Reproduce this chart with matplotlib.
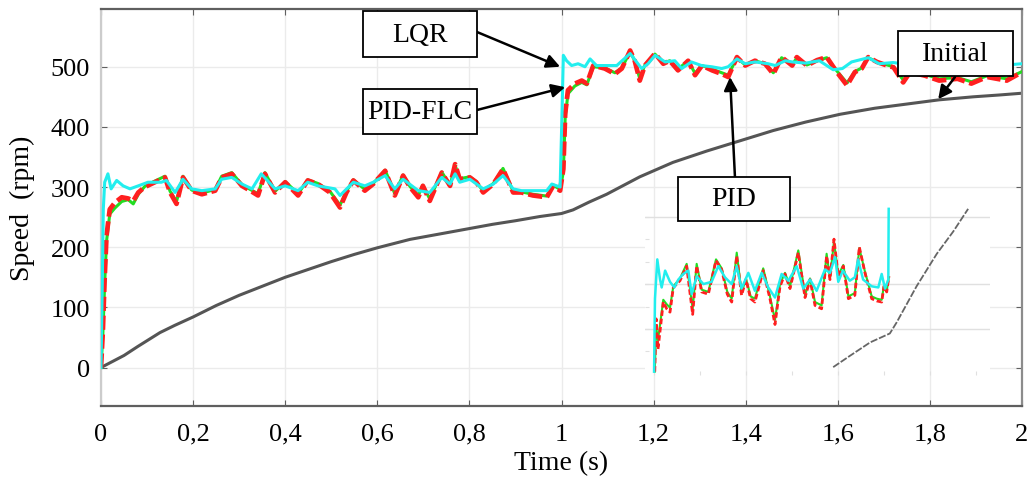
import matplotlib
matplotlib.use('Agg')
import matplotlib.pyplot as plt
from matplotlib.patches import Rectangle

plt.rcParams['font.family'] = 'Liberation Serif'

# Speed responses (rpm) over time (s)
t_pid = [0, 0.004, 0.008, 0.012, 0.019, 0.030, 0.045, 0.059, 0.070, 0.081,
         0.095, 0.117, 0.139, 0.150, 0.164, 0.178, 0.197, 0.219, 0.248, 0.262,
         0.284, 0.306, 0.324, 0.341, 0.356, 0.378, 0.400, 0.428, 0.449, 0.471,
         0.497, 0.519, 0.533, 0.548, 0.573, 0.591, 0.617, 0.638, 0.656, 0.671,
         0.689, 0.699, 0.714, 0.740, 0.758, 0.769, 0.779, 0.801, 0.815, 0.830,
         0.852, 0.873, 0.895, 0.913, 0.938, 0.968, 0.982, 0.997, 1.004, 1.008,
         1.014, 1.029, 1.044, 1.055, 1.069, 1.094, 1.116, 1.131, 1.149, 1.159,
         1.170, 1.181, 1.203, 1.221, 1.235, 1.253, 1.275, 1.290, 1.305, 1.327,
         1.348, 1.362, 1.381, 1.399, 1.420, 1.442, 1.460, 1.478, 1.501, 1.511,
         1.533, 1.555, 1.576, 1.598, 1.620, 1.637, 1.652, 1.666, 1.685, 1.707,
         1.721, 1.742, 1.757, 1.790, 1.820, 1.860, 1.890, 1.924, 1.967, 2.0]
pid = [0, 60, 150, 219, 263, 274, 283, 281, 277, 291,
       300, 308, 316, 291, 272, 316, 294, 288, 294, 316,
       322, 302, 294, 286, 322, 291, 308, 286, 311, 305,
       291, 266, 291, 311, 294, 305, 327, 286, 319, 300,
       283, 302, 277, 324, 302, 338, 313, 316, 308, 291,
       305, 330, 291, 291, 286, 283, 302, 294, 330, 422,
       461, 472, 477, 472, 502, 497, 488, 497, 527, 510,
       477, 502, 522, 505, 510, 494, 510, 486, 502, 494,
       488, 483, 516, 502, 510, 505, 488, 516, 502, 516,
       502, 511, 516, 491, 469, 491, 497, 516, 508, 502,
       499, 474, 491, 485, 477, 480, 472, 483, 477, 491]
pid_flc = [0, 55, 140, 210, 255, 265, 276, 279, 272, 288,
           301, 310, 318, 293, 276, 318, 295, 290, 296, 318,
           324, 304, 296, 289, 324, 293, 309, 289, 312, 306,
           293, 270, 293, 312, 296, 306, 328, 289, 320, 301,
           286, 303, 280, 325, 303, 336, 314, 317, 309, 293,
           306, 331, 293, 292, 288, 285, 303, 296, 325, 415,
           455, 468, 474, 470, 500, 498, 490, 498, 525, 510,
           480, 503, 521, 506, 510, 496, 510, 489, 502, 496,
           490, 486, 515, 503, 510, 505, 490, 515, 503, 515,
           503, 510, 515, 493, 473, 492, 498, 515, 508, 503,
           500, 478, 492, 487, 480, 482, 475, 485, 480, 492]

t_lqr = [0, 0.003, 0.005, 0.008, 0.015, 0.022, 0.034, 0.048, 0.063, 0.081,
         0.102, 0.131, 0.142, 0.161, 0.178, 0.197, 0.219, 0.248, 0.262, 0.284,
         0.306, 0.328, 0.348, 0.378, 0.400, 0.428, 0.449, 0.471, 0.508, 0.519,
         0.548, 0.573, 0.591, 0.617, 0.638, 0.656, 0.689, 0.714, 0.740, 0.758,
         0.769, 0.779, 0.801, 0.830, 0.852, 0.873, 0.895, 0.913, 0.938, 0.968,
         0.979, 0.997, 1.001, 1.004, 1.011, 1.022, 1.036, 1.051, 1.062, 1.076,
         1.098, 1.120, 1.149, 1.163, 1.174, 1.188, 1.203, 1.225, 1.246, 1.261,
         1.282, 1.304, 1.326, 1.348, 1.362, 1.381, 1.399, 1.420, 1.449, 1.464,
         1.486, 1.501, 1.530, 1.560, 1.590, 1.610, 1.630, 1.666, 1.690, 1.720,
         1.760, 1.800, 1.850, 1.900, 1.950, 2.0]
lqr = [0, 150, 263, 308, 322, 297, 311, 302, 297, 302,
       308, 308, 311, 291, 313, 297, 294, 297, 313, 316,
       305, 297, 322, 297, 302, 294, 308, 302, 297, 286,
       308, 302, 308, 319, 297, 313, 294, 291, 316, 305,
       322, 308, 313, 297, 305, 319, 297, 294, 294, 294,
       305, 300, 420, 519, 510, 502, 505, 500, 513, 502,
       502, 502, 522, 508, 497, 505, 519, 508, 510, 497,
       508, 502, 500, 497, 500, 513, 505, 508, 505, 502,
       510, 508, 506, 510, 495, 497, 508, 515, 505, 507,
       503, 506, 504, 508, 502, 505]

t_init = [0, 0.025, 0.05, 0.08, 0.128, 0.16, 0.2, 0.25, 0.3, 0.35,
          0.4, 0.45, 0.5, 0.55, 0.6, 0.671, 0.75, 0.8, 0.85, 0.9,
          0.953, 1.0, 1.025, 1.06, 1.098, 1.170, 1.242, 1.316, 1.388, 1.460,
          1.530, 1.605, 1.680, 1.750, 1.820, 1.894, 1.950, 2.0]
initial = [0, 10, 20, 35, 58, 70, 84, 103, 120, 135,
           150, 163, 176, 188, 199, 213, 224, 231, 238, 244,
           251, 256, 262, 275, 288, 317, 341, 360, 377, 394,
           408, 421, 431, 438, 445, 450, 453, 456]

# zoomed detail drawn in the lower right
t_zoom_lqr = [1.201, 1.203, 1.208, 1.214, 1.2175, 1.225, 1.2356, 1.245, 1.2537, 1.2645,
              1.2754, 1.2826, 1.2936, 1.308, 1.326, 1.3405, 1.355, 1.3696, 1.3805, 1.391,
              1.4057, 1.42, 1.4347, 1.449, 1.4636, 1.478, 1.4926, 1.5107, 1.525, 1.5397,
              1.554, 1.572, 1.583, 1.594, 1.601, 1.611, 1.626, 1.637, 1.644, 1.655,
              1.6736, 1.688, 1.6953, 1.7025, 1.7097, 1.7105]
zoom_lqr = [222, 287, 322, 304, 297, 312, 302, 297, 304, 309,
            312, 291, 307, 300, 302, 316, 306, 300, 316, 296,
            310, 294, 310, 297, 288, 309, 303, 316, 296, 304,
            294, 313, 310, 324, 302, 312, 303, 306, 322, 304,
            298, 297, 309, 296, 304, 367]
t_zoom_pid = [1.2025, 1.2055, 1.2095, 1.2153, 1.221, 1.2284, 1.2356, 1.2428, 1.2573, 1.2718,
              1.2848, 1.2935, 1.3044, 1.3188, 1.3355, 1.3478, 1.36, 1.3696, 1.3805, 1.391,
              1.4006, 1.4107, 1.42, 1.438, 1.4527, 1.4636, 1.4745, 1.4853, 1.4962, 1.5142,
              1.5288, 1.5397, 1.5505, 1.5648, 1.5757, 1.583, 1.5917, 1.601, 1.612, 1.623,
              1.637, 1.6467, 1.659, 1.6736, 1.6845, 1.6953, 1.7003, 1.7062, 1.711]
zoom_pid = [222, 269, 242, 263, 284, 278, 275, 297, 303, 316,
            273, 316, 293, 291, 321, 313, 291, 284, 325, 290,
            304, 287, 284, 312, 287, 264, 298, 309, 296, 328,
            288, 304, 281, 278, 325, 304, 340, 307, 316, 287,
            290, 333, 310, 287, 285, 284, 298, 293, 307]
zoom_flc = [222, 262, 250, 268, 286, 282, 279, 298, 305, 318,
            278, 318, 295, 293, 322, 314, 293, 287, 328, 292,
            305, 289, 287, 314, 289, 268, 300, 310, 298, 330,
            290, 305, 284, 281, 327, 305, 338, 308, 317, 289,
            292, 332, 311, 289, 287, 286, 299, 294, 306]
t_zoom_init = [1.590, 1.626, 1.670, 1.713, 1.728, 1.771, 1.815, 1.851, 1.883]
zoom_init = [226, 236, 248, 256, 266, 298, 327, 347, 367]

x_ticks = [0, 0.2, 0.4, 0.6, 0.8, 1.0, 1.2, 1.4, 1.6, 1.8, 2.0]
x_tick_labels = ['0', '0,2', '0,4', '0,6', '0,8', '1', '1,2', '1,4', '1,6', '1,8', '2']
y_ticks = [0, 100, 200, 300, 400, 500]

RED = '#ff1f1f'
GREEN = '#22dd22'
CYAN = '#22eeee'
GRAY = '#555555'

W, H = 1031, 481
fig = plt.figure(figsize=(W / 100, H / 100), dpi=100)
ax = fig.add_axes([101 / W, 1 - 407 / H, 921 / W, 397 / H])

ax.plot(t_init, initial, color=GRAY, lw=2.2, zorder=2)
ax.plot(t_pid, pid_flc, color=GREEN, lw=2.2, zorder=3)
ax.plot(t_pid, pid, color=RED, lw=3.4, ls=(0, (3, 1)), zorder=4)
ax.plot(t_lqr, lqr, color=CYAN, lw=2.2, zorder=5)

ax.set_xlim(0, 2)
ax.set_ylim(-64, 596)
ax.set_xticks(x_ticks)
ax.set_xticklabels(x_tick_labels)
ax.set_yticks(y_ticks)
ax.tick_params(direction='in', length=4, color='#606060', labelsize=19,
               top=True, right=True)
ax.tick_params(axis='x', pad=12)
ax.tick_params(axis='y', pad=8)
ax.grid(True, color='#ebebeb', lw=1.0)
ax.set_axisbelow(True)
for side, col in [('top', '#5f5f5f'), ('bottom', '#5f5f5f'),
                  ('left', '#cccccc'), ('right', '#8c8c8c')]:
    ax.spines[side].set_color(col)
    ax.spines[side].set_linewidth(1.6)
ax.set_xlabel('Time (s)', fontsize=20, labelpad=4)
ax.set_ylabel('Speed  (rpm)', fontsize=20, labelpad=11)

# inset with the magnified traces
ins = fig.add_axes([645 / W, 1 - 376 / H, 345 / W, 174 / H])
ins.set_facecolor('white')
ins.set_xlim(1.1813, 1.9305)
ins.set_ylim(219, 374)
for sp in ins.spines.values():
    sp.set_visible(False)
ins.set_xticks([1.2, 1.3, 1.4, 1.5, 1.6, 1.7, 1.8, 1.9])
ins.set_yticks([240, 260, 280, 300, 320, 340, 360])
ins.tick_params(direction='in', length=3, color='#e0e0e0',
                labelbottom=False, labelleft=False)
for x in [1.2, 1.4, 1.6, 1.8]:
    ins.axvline(x, color='#ebebeb', lw=1.0, zorder=0)
for y in [260, 300, 360]:
    ins.axhline(y, color='#e0e0e0', lw=1.0, zorder=0)
ins.plot(t_zoom_init, zoom_init, color='#666666', lw=1.3, ls=(0, (4, 1)), zorder=2)
ins.plot(t_zoom_pid, zoom_flc, color=GREEN, lw=1.5, zorder=3)
ins.plot(t_zoom_pid, zoom_pid, color=RED, lw=2.0, ls=(0, (2, 1)), zorder=4)
ins.plot(t_zoom_lqr, zoom_lqr, color=CYAN, lw=1.8, zorder=5)

# labelled boxes with arrows pointing at each trace
boxes = [
    ('LQR', (363, 12, 477, 58), (477, 33), (0.997, 500)),
    ('PID-FLC', (363, 90, 477, 135), (477, 111), (1.008, 466)),
    ('PID', (678, 178, 790, 222), (735, 179), (1.366, 483)),
    ('Initial', (898, 32, 1013, 77), (955, 78), (1.818, 446)),
]
for label, (x0, y0, x1, y1), base, tip in boxes:
    fig.patches.append(Rectangle((x0 / W, 1 - y1 / H), (x1 - x0) / W, (y1 - y0) / H,
                                 transform=fig.transFigure, facecolor='white',
                                 edgecolor='black', lw=1.3, zorder=5))
    fig.text((x0 + x1) / 2 / W, 1 - (y0 + y1) / 2 / H, label, fontsize=20,
             ha='center', va='center', zorder=6)
    ax.annotate('', xy=tip, xycoords='data',
                xytext=(base[0], H - base[1]), textcoords='figure pixels',
                arrowprops=dict(arrowstyle='-|>', color='black', lw=1.8,
                                mutation_scale=20, shrinkA=0, shrinkB=0),
                zorder=7)

fig.savefig('out.png', dpi=100)
